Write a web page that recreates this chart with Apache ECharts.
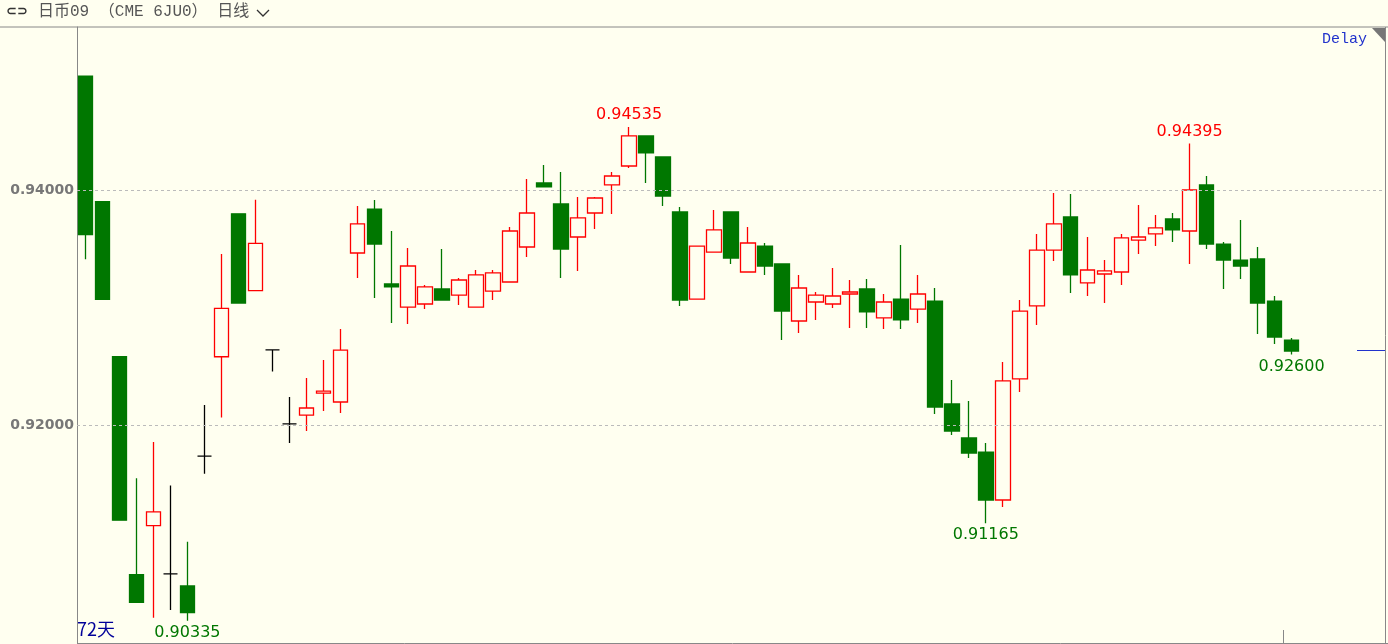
<!DOCTYPE html>
<html>
<head>
<meta charset="utf-8">
<script src="https://cdn.jsdelivr.net/npm/echarts@6/dist/echarts.min.js"></script>
<style>
  html, body { margin: 0; padding: 0; background: #fffff0; }
  #chart { width: 1388px; height: 644px; }
</style>
</head>
<body>
<div id="chart"></div>
<script>
// 日线 OHLC（开, 收, 低, 高）
const opens  = [0.94969,0.93900,0.92581,0.90727,0.91144,0.90733,0.90630,0.91735,0.92581,0.93797,0.93144,0.92640,0.92009,0.92085,0.92272,0.92196,0.93464,0.93838,0.93200,0.93004,0.93030,0.93158,0.93106,0.93004,0.93140,0.93217,0.93515,0.94060,0.93881,0.93600,0.93804,0.94043,0.94204,0.94460,0.94281,0.93813,0.93072,0.93472,0.93813,0.93302,0.93523,0.93370,0.92885,0.93047,0.93030,0.93115,0.93158,0.92911,0.93072,0.92987,0.93055,0.92179,0.91890,0.91770,0.91362,0.92392,0.93013,0.93489,0.93770,0.93209,0.93285,0.93302,0.93574,0.93626,0.93753,0.93651,0.94043,0.93540,0.93404,0.93413,0.93055,0.92723];
const closes = [0.93620,0.93069,0.91190,0.90490,0.91261,0.90733,0.90404,0.91735,0.92992,0.93038,0.93545,0.92640,0.92009,0.92145,0.92289,0.92638,0.93711,0.93540,0.93175,0.93353,0.93175,0.93064,0.93234,0.93277,0.93294,0.93651,0.93804,0.94026,0.93498,0.93762,0.93932,0.94119,0.94460,0.94315,0.93949,0.93064,0.93523,0.93660,0.93421,0.93549,0.93353,0.92970,0.93166,0.93106,0.93098,0.93132,0.92962,0.93047,0.92894,0.93115,0.92153,0.91949,0.91762,0.91362,0.92375,0.92970,0.93489,0.93711,0.93277,0.93319,0.93311,0.93592,0.93600,0.93677,0.93660,0.94000,0.93540,0.93404,0.93353,0.93038,0.92749,0.92630];
const lows   = [0.93411,0.93069,0.91190,0.90490,0.90360,0.90425,0.90335,0.91586,0.92064,0.93038,0.93144,0.92456,0.91847,0.91949,0.92119,0.92102,0.93251,0.93081,0.92868,0.92860,0.92987,0.93064,0.93021,0.93004,0.93064,0.93217,0.93430,0.94026,0.93251,0.93311,0.93668,0.93796,0.94187,0.94060,0.93864,0.93013,0.93072,0.93472,0.93370,0.93302,0.93277,0.92723,0.92783,0.92894,0.92996,0.92826,0.92826,0.92817,0.92817,0.92868,0.92094,0.91915,0.91719,0.91165,0.91302,0.92281,0.92851,0.93396,0.93123,0.93098,0.93038,0.93192,0.93455,0.93523,0.93557,0.93370,0.93498,0.93158,0.93243,0.92775,0.92689,0.92600];
const highs  = [0.94969,0.93900,0.92581,0.91548,0.91856,0.91486,0.91007,0.92170,0.93455,0.93797,0.93918,0.92640,0.92238,0.92400,0.92553,0.92817,0.93864,0.93915,0.93651,0.93506,0.93192,0.93498,0.93251,0.93319,0.93319,0.93685,0.94094,0.94213,0.94153,0.93940,0.93940,0.94153,0.94535,0.94460,0.94281,0.93855,0.93523,0.93830,0.93813,0.93685,0.93549,0.93370,0.93277,0.93132,0.93336,0.93234,0.93243,0.93115,0.93532,0.93277,0.93166,0.92383,0.92204,0.91847,0.92536,0.93064,0.93626,0.93974,0.93966,0.93600,0.93404,0.93626,0.93872,0.93787,0.93804,0.94395,0.94119,0.93557,0.93745,0.93515,0.93098,0.92740];
const emptySlots = 5;
const yTicks = [0.92, 0.94];
// 标注：[序号, 价格, 颜色, 位置]
const marks = [
  [32, 0.94535, '#ff0000', 'top'],
  [65, 0.94395, '#ff0000', 'top'],
  [53, 0.91165, '#007700', 'bottom'],
  [71, 0.92600, '#007700', 'bottom'],
  [6, 0.90335, '#007700', 'bottom']
];

const GREEN = '#007700', RED = '#ff0000', BG = '#fffff0';
const cats = [];
for (let i = 0; i < opens.length + emptySlots; i++) cats.push(String(i));
const candles = opens.map((o, i) => {
  const item = { value: [o, closes[i], lows[i], highs[i]] };
  if (o === closes[i]) item.itemStyle = { color: '#000', color0: '#000', borderColor: '#000', borderColor0: '#000' };
  return item;
});

const chart = echarts.init(document.getElementById('chart'));
chart.setOption({
  animation: false,
  backgroundColor: BG,
  grid: { left: 77, top: 27, right: 3, bottom: 1 },
  xAxis: {
    type: 'category', data: cats, boundaryGap: true,
    axisLine: { show: false }, axisTick: { show: false }, axisLabel: { show: false }
  },
  yAxis: {
    type: 'value', min: 0.90145, max: 0.95387, scale: true,
    axisLine: { show: true, lineStyle: { color: '#888', width: 1 } },
    axisTick: { show: false },
    splitLine: { show: false },
    axisLabel: {
      customValues: yTicks, margin: 3, color: '#777', fontWeight: 'bold',
      fontSize: 14, fontFamily: 'DejaVu Sans',
      formatter: v => v.toFixed(5)
    }
  },
  graphic: [
    { type: 'rect', shape: { x: 0, y: 0, width: 1388, height: 27 }, style: { fill: BG } },
    { type: 'line', shape: { x1: 0, y1: 27, x2: 1388, y2: 27 }, style: { stroke: '#888', lineWidth: 1 } },
    { type: 'line', shape: { x1: 1385.5, y1: 27, x2: 1385.5, y2: 644 }, style: { stroke: '#888', lineWidth: 1 } },
    { type: 'line', shape: { x1: 77, y1: 643.5, x2: 1388, y2: 643.5 }, style: { stroke: '#888', lineWidth: 1 } },
    { type: 'polygon', shape: { points: [[1372, 28], [1385, 28], [1385, 42]] }, style: { fill: '#777' } },
    { type: 'text', left: 6, top: 5, style: { text: '⊂⊃', font: 'bold 13px DejaVu Sans', fill: '#333' } },
    { type: 'text', left: 38, top: 4, style: { text: '日币09 （CME 6JU0） 日线', font: '16px "Liberation Mono", "Noto Sans CJK SC"', fill: '#555' } },
    { type: 'polyline', shape: { points: [[257, 10], [263, 16], [269, 10]] }, style: { stroke: '#333', lineWidth: 1.3 } },
    { type: 'text', right: 21, top: 32, style: { text: 'Delay', font: '15px "Liberation Mono", "DejaVu Sans Mono"', fill: '#2233cc' } },
    { type: 'text', left: 77, top: 620, style: { text: '72天', font: '18px "Noto Sans CJK SC"', fill: '#000099' } },
    { type: 'line', shape: { x1: 1357, y1: 350.5, x2: 1385, y2: 350.5 }, style: { stroke: '#2233cc', lineWidth: 1 } },
    { type: 'line', shape: { x1: 1283.5, y1: 630, x2: 1283.5, y2: 643 }, style: { stroke: '#888', lineWidth: 1 } }
  ],
  series: [{
    type: 'candlestick',
    data: candles,
    barWidth: 15,
    itemStyle: { color: BG, color0: GREEN, borderColor: RED, borderColor0: GREEN, borderWidth: 1.3 },
    markLine: {
      silent: true, symbol: 'none', label: { show: false },
      lineStyle: { type: [3, 3], color: '#bbb', width: 1 },
      data: yTicks.map(v => ({ yAxis: v }))
    },
    markPoint: {
      symbolSize: 0,
      data: marks.map(m => ({
        coord: [m[0], m[1]], value: m[1],
        label: {
          show: true, formatter: m[1].toFixed(5), color: m[2], fontSize: 16, fontFamily: 'DejaVu Sans',
          position: m[3], distance: 4
        }
      }))
    }
  }]
});
</script>
</body>
</html>
